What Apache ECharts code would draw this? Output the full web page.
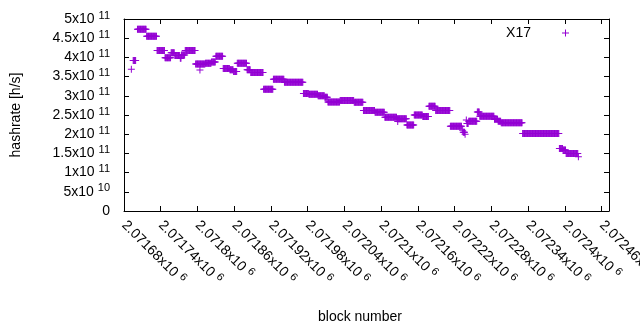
<!DOCTYPE html>
<html>
<head>
<meta charset="utf-8">
<script src="https://cdn.jsdelivr.net/npm/echarts@6/dist/echarts.min.js"></script>
<style>
html,body{margin:0;padding:0;background:#fff;}
#chart{width:640px;height:330px;}
</style>
</head>
<body>
<div id="chart"></div>
<script>
// ---- data: runs of consecutive blocks sharing one hashrate ----
const seriesName = 'X17';
const runStart = [2071692, 2071695, 2071702, 2071717, 2071734, 2071747, 2071757, 2071763, 2071772, 2071774,
  2071780, 2071797, 2071804, 2071813, 2071823, 2071830, 2071842, 2071853, 2071859, 2071865,
  2071881, 2071887, 2071908, 2071924, 2071942, 2071973, 2071982, 2071997, 2072008, 2072013,
  2072033, 2072056, 2072071, 2072090, 2072106, 2072126, 2072127, 2072142, 2072154, 2072168,
  2072178, 2072189, 2072213, 2072233, 2072234, 2072237, 2072239, 2072240, 2072243, 2072257,
  2072261, 2072285, 2072291, 2072296, 2072331, 2072391, 2072397, 2072402, 2072422];
const runEnd = [2071692, 2071699, 2071716, 2071733, 2071746, 2071756, 2071762, 2071771, 2071773, 2071779,
  2071796, 2071812, 2071804, 2071822, 2071829, 2071841, 2071852, 2071858, 2071864, 2071880,
  2071886, 2071907, 2071923, 2071941, 2071972, 2071981, 2071996, 2072007, 2072012, 2072032,
  2072055, 2072070, 2072089, 2072105, 2072125, 2072141, 2072127, 2072153, 2072167, 2072177,
  2072188, 2072212, 2072231, 2072233, 2072236, 2072237, 2072239, 2072242, 2072256, 2072260,
  2072284, 2072290, 2072295, 2072330, 2072390, 2072396, 2072401, 2072421, 2072422];
const runValue = [3.69e11, 3.92e11, 4.73e11, 4.55e11, 4.18e11, 3.99e11, 4.12e11, 4.05e11, 3.98e11, 4.06e11,
  4.18e11, 3.83e11, 3.67e11, 3.85e11, 3.88e11, 4.03e11, 3.71e11, 3.68e11, 3.63e11, 3.85e11,
  3.68e11, 3.61e11, 3.17e11, 3.43e11, 3.35e11, 3.06e11, 3.04e11, 3.00e11, 2.96e11, 2.84e11,
  2.88e11, 2.83e11, 2.62e11, 2.57e11, 2.44e11, 2.40e11, 2.33e11, 2.24e11, 2.50e11, 2.46e11,
  2.73e11, 2.62e11, 2.21e11, 2.10e11, 2.05e11, 2.00e11, 2.37e11, 2.28e11, 2.34e11, 2.58e11,
  2.47e11, 2.39e11, 2.34e11, 2.30e11, 2.02e11, 1.63e11, 1.59e11, 1.50e11, 1.41e11];

// ---- axis ticks ----
const xMin = 2071680, xMax = 2072472;
const xTicks = [2071680, 2071740, 2071800, 2071860, 2071920, 2071980, 2072040, 2072100,
  2072160, 2072220, 2072280, 2072340, 2072400, 2072460];
const xTickMantissa = ['2.07168', '2.07174', '2.0718', '2.07186', '2.07192', '2.07198', '2.07204',
  '2.0721', '2.07216', '2.07222', '2.07228', '2.07234', '2.0724', '2.07246'];
const xTickExponent = '6';
const yTicks = [0, 5e10, 1e11, 1.5e11, 2e11, 2.5e11, 3e11, 3.5e11, 4e11, 4.5e11, 5e11];
const yTickMantissa = ['0', '5x10', '1x10', '1.5x10', '2x10', '2.5x10', '3x10', '3.5x10', '4x10', '4.5x10', '5x10'];
const yTickExponent = ['', '10', '11', '11', '11', '11', '11', '11', '11', '11', '11'];

// build point list from the runs
const points = [];
for (let i = 0; i < runStart.length; i++) {
  for (let b = runStart[i]; b <= runEnd[i]; b++) points.push([b, runValue[i]]);
}

const FONT = '"Liberation Sans", Arial, sans-serif';
const PURPLE = '#9400D3';
const PLUS = 'path://M3,0h1v3h3v1h-3v3h-1v-3h-3v-1h3z';

function xLabel(v) {
  const i = xTicks.indexOf(v);
  if (i < 0) return '';
  return '{m|' + xTickMantissa[i] + 'x10}{s|' + xTickExponent + '}';
}
function yLabel(v) {
  let i = -1;
  for (let k = 0; k < yTicks.length; k++) if (Math.abs(yTicks[k] - v) < 1e6) i = k;
  if (i < 0) return '';
  if (!yTickExponent[i]) return '{m|' + yTickMantissa[i] + '}';
  return '{m|' + yTickMantissa[i] + '}{s|' + yTickExponent[i] + '}';
}
const richLbl = {
  m: { fontSize: 14, fontFamily: FONT, color: '#000', lineHeight: 18 },
  s: { fontSize: 11, fontFamily: FONT, color: '#000', lineHeight: 11, verticalAlign: 'top', padding: [0, 0, 0, 4] }
};
const axisLineStyle = { show: true, onZero: false, lineStyle: { color: '#000', width: 1 } };
const tickStyle = { show: true, inside: true, length: 5, lineStyle: { color: '#000', width: 1 } };

const chart = echarts.init(document.getElementById('chart'), null, { renderer: 'canvas' });
chart.setOption({
  animation: false,
  backgroundColor: '#fff',
  textStyle: { fontFamily: FONT },
  grid: { left: 124, right: 31, top: 19, bottom: 119, containLabel: false, outerBoundsMode: 'none' },
  legend: {
    data: [seriesName],
    right: 66, top: 21,
    align: 'right',
    icon: PLUS,
    itemWidth: 7, itemHeight: 7,
    textStyle: { fontSize: 14, fontFamily: FONT, color: '#000', padding: [0, 26, 0, 0] }
  },
  xAxis: [{
    type: 'value', position: 'bottom', min: xMin, max: xMax,
    name: 'block number', nameLocation: 'middle', nameGap: 99,
    nameTextStyle: { fontSize: 14, fontFamily: FONT, color: '#000', padding: [0, 13, 0, 0] },
    axisLine: axisLineStyle,
    axisTick: Object.assign({ customValues: xTicks }, tickStyle),
    axisLabel: { customValues: xTicks, rotate: -45, margin: 12, formatter: xLabel, rich: richLbl, hideOverlap: false },
    splitLine: { show: false }
  }, {
    type: 'value', position: 'top', min: xMin, max: xMax,
    axisLine: axisLineStyle,
    axisTick: Object.assign({ customValues: xTicks }, tickStyle),
    axisLabel: { show: false },
    splitLine: { show: false }
  }],
  yAxis: [{
    type: 'value', position: 'left', min: 0, max: 5e11, interval: 5e10,
    name: 'hashrate [h/s]', nameLocation: 'middle', nameGap: 101,
    nameTextStyle: { fontSize: 14, fontFamily: FONT, color: '#000' },
    axisLine: axisLineStyle, axisTick: tickStyle,
    axisLabel: { margin: 14, formatter: yLabel, rich: richLbl },
    splitLine: { show: false }
  }, {
    type: 'value', position: 'right', min: 0, max: 5e11, interval: 5e10,
    axisLine: axisLineStyle, axisTick: tickStyle,
    axisLabel: { show: false },
    splitLine: { show: false }
  }],
  series: [{
    name: seriesName,
    type: 'scatter',
    xAxisIndex: 0, yAxisIndex: 0,
    symbol: PLUS, symbolSize: 7,
    itemStyle: { color: PURPLE, opacity: 1 },
    emphasis: { disabled: true },
    data: points
  }]
});
</script>
</body>
</html>
